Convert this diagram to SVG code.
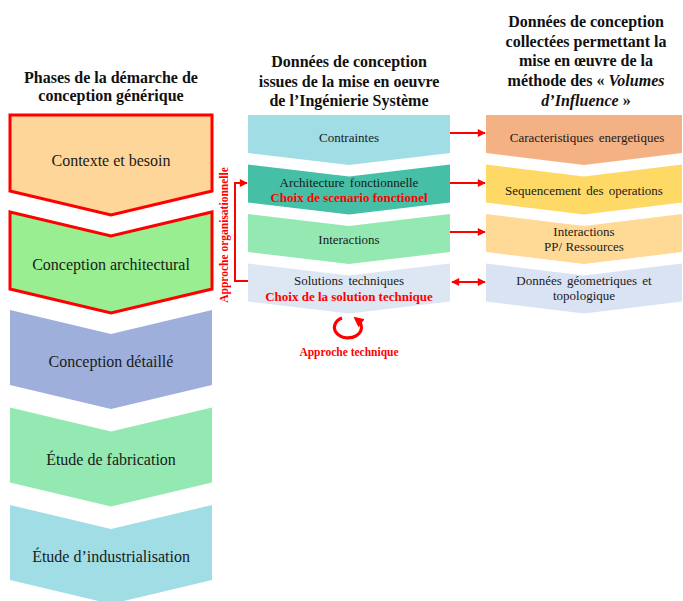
<svg xmlns="http://www.w3.org/2000/svg" width="683" height="601" viewBox="0 0 683 601">
<style>
text{font-family:"Liberation Serif","Times New Roman",serif;text-anchor:middle;fill:#1a1a1a}
.h{font-size:16px;font-weight:bold;fill:#111}
.l{font-size:16px}
.m{font-size:13px}
.r{font-size:13px;font-weight:bold;fill:#ff0000}
.s{font-size:11.5px;font-weight:bold;fill:#ff0000}
.red{stroke:#ff0000;stroke-width:3}
.c{fill:none;stroke:#ff0000;stroke-width:2}
</style>
<defs>
<marker id="ah" viewBox="0 0 10 10" refX="9" refY="5" markerWidth="4.5" markerHeight="4" orient="auto-start-reverse" markerUnits="strokeWidth">
<path d="M0,0 L10,5 L0,10 Z" fill="#ff0000"/>
</marker>
<marker id="ah2" viewBox="0 0 10 10" refX="5" refY="5" markerWidth="3.2" markerHeight="3.2" orient="auto" markerUnits="strokeWidth">
<path d="M0,0 L10,5 L0,10 Z" fill="#ff0000"/>
</marker>
</defs>
<rect width="683" height="601" fill="#ffffff"/>

<g id="headers">
<text class="h" x="111" y="83">Phases de la démarche de</text>
<text class="h" x="111" y="101">conception générique</text>
<text class="h" x="349" y="67">Données de conception</text>
<text class="h" x="349" y="86.5">issues de la mise en oeuvre</text>
<text class="h" x="349" y="106">de l’Ingénierie Système</text>
<text class="h" x="586" y="27">Données de conception</text>
<text class="h" x="586" y="46.5">collectées permettant la</text>
<text class="h" x="586" y="66">mise en œuvre de la</text>
<text class="h" x="586" y="86">méthode des « <tspan font-style="italic">Volumes</tspan></text>
<text class="h" x="586" y="106"><tspan font-style="italic">d’Influence</tspan> »</text>
</g>

<g id="phase1">
<path class="red" d="M10,115 H212 V191 L111,215 L10,191 Z" fill="#FFD699"/>
<text class="l" x="111" y="166">Contexte et besoin</text>
</g>
<g id="phase2">
<path class="red" d="M10,212 L111,236 L212,212 V289 L111,313 L10,289 Z" fill="#98EE90"/>
<text class="l" x="111" y="270">Conception architectural</text>
</g>
<g id="phase3">
<path d="M10,310 L111,334 L212,310 V385 L111,409 L10,385 Z" fill="#9EAFDB"/>
<text class="l" x="111" y="367">Conception détaillé</text>
</g>
<g id="phase4">
<path d="M10,407.5 L111,431.5 L212,407.5 V482.5 L111,506.5 L10,482.5 Z" fill="#93E9B1"/>
<text class="l" x="111" y="465">Étude de fabrication</text>
</g>
<g id="phase5">
<path d="M10,505 L111,529 L212,505 V580 L111,604 L10,580 Z" fill="#A1DDE5"/>
<text class="l" x="111" y="562">Étude d’industrialisation</text>
</g>

<g id="m1">
<path d="M248,115 H450 V153 L349,165 L248,153 Z" fill="#A1DDE5"/>
<text class="m" x="349" y="142">Contraintes</text>
</g>
<g id="m2">
<path d="M248,164.5 L349,176.5 L450,164.5 V202.5 L349,214.5 L248,202.5 Z" fill="#45BFA6"/>
<text class="m" x="349" y="187" word-spacing="2">Architecture fonctionnelle</text>
<text class="r" x="349" y="202">Choix de scenario fonctionel</text>
</g>
<g id="m3">
<path d="M248,214 L349,226 L450,214 V252 L349,264 L248,252 Z" fill="#93E9B1"/>
<text class="m" x="349" y="244">Interactions</text>
</g>
<g id="m4">
<path d="M248,263.5 L349,275.5 L450,263.5 V301.5 L349,313.5 L248,301.5 Z" fill="#DDE6F3"/>
<text class="m" x="349" y="285" word-spacing="2">Solutions techniques</text>
<text class="r" x="349" y="301">Choix de la solution technique</text>
</g>

<g id="r1">
<path d="M486,115 H682 V153 L584,165 L486,153 Z" fill="#F4B183"/>
<text class="m" x="587" y="142" word-spacing="2">Caracteristiques energetiques</text>
</g>
<g id="r2">
<path d="M486,164.5 L584,176.5 L682,164.5 V202.5 L584,214.5 L486,202.5 Z" fill="#FFD966"/>
<text class="m" x="584" y="195" word-spacing="2">Sequencement des operations</text>
</g>
<g id="r3">
<path d="M486,214 L584,226 L682,214 V252 L584,264 L486,252 Z" fill="#FFDA96"/>
<text class="m" x="584" y="236">Interactions</text>
<text class="m" x="584" y="251">PP/ Ressources</text>
</g>
<g id="r4">
<path d="M486,263.5 L584,275.5 L682,263.5 V301.5 L584,313.5 L486,301.5 Z" fill="#DAE3F3"/>
<text class="m" x="584" y="285" word-spacing="2">Données géometriques et</text>
<text class="m" x="584" y="300">topologique</text>
</g>

<g id="connectors">
<line class="c" x1="450" y1="133" x2="485" y2="133" marker-end="url(#ah)"/>
<line class="c" x1="450" y1="183" x2="485" y2="183" marker-end="url(#ah)"/>
<line class="c" x1="450" y1="232" x2="485" y2="232" marker-end="url(#ah)"/>
<line class="c" x1="452" y1="282" x2="485" y2="282" marker-start="url(#ah)" marker-end="url(#ah)"/>
<polyline class="c" points="248,281 235,281 235,183 247,183" marker-end="url(#ah)"/>
<path d="M342,318 A13.5,10.5 0 1 0 357.5,320" fill="none" stroke="#ff0000" stroke-width="3.2" marker-end="url(#ah2)"/>
</g>

<g id="labels">
<text class="s" x="0" y="0" transform="translate(228,235) rotate(-90)">Approche organisationnelle</text>
<text class="s" x="349" y="356">Approche technique</text>
</g>
</svg>
